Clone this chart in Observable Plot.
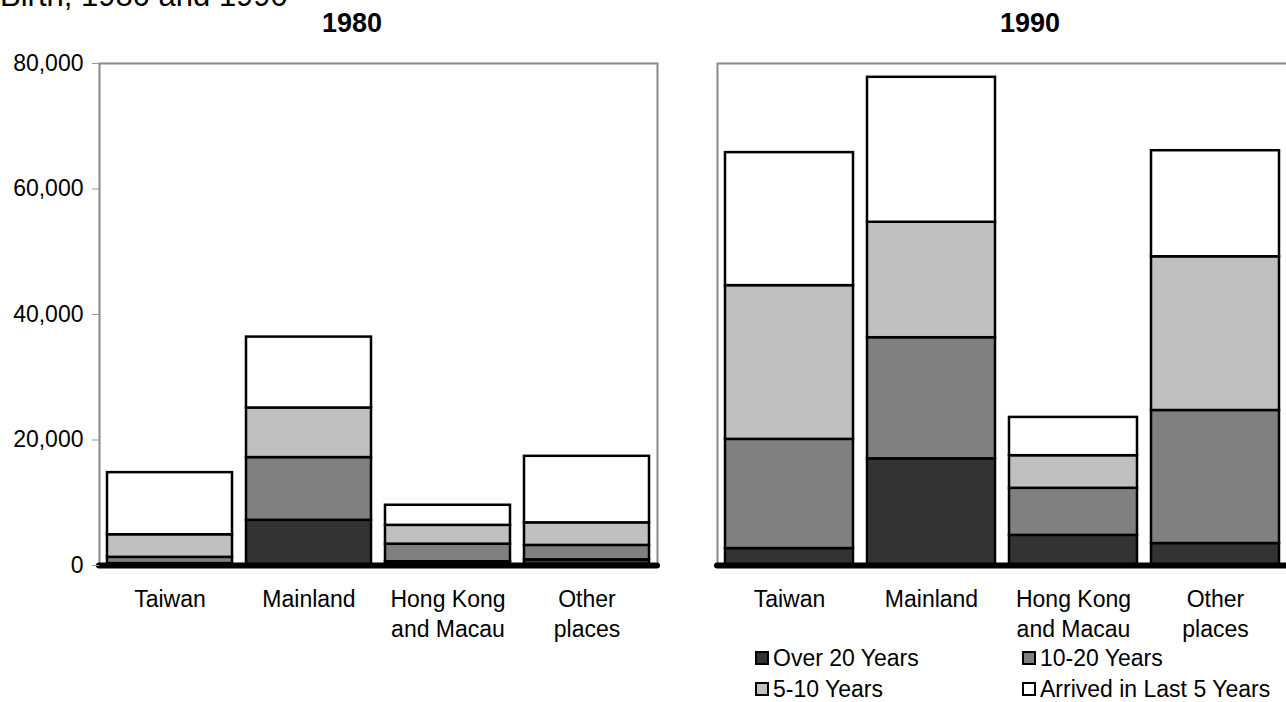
<!DOCTYPE html>
<html>
<head>
<meta charset="utf-8">
<script src="https://cdn.jsdelivr.net/npm/d3@7"></script>
<script src="https://cdn.jsdelivr.net/npm/@observablehq/plot@0.6"></script>
<style>
  html, body { margin: 0; padding: 0; background: #fff; }
  #root { position: relative; width: 1286px; height: 702px; overflow: hidden; font-family: "Liberation Sans", Arial, sans-serif; }
  .abs { position: absolute; }
  .ptitle { position: absolute; font-weight: bold; font-size: 27px; line-height: 27px; transform: translateX(-50%); white-space: nowrap; }
  .leg { position: absolute; font-size: 23px; line-height: 24px; display: flex; align-items: center; white-space: nowrap; }
  .sw { width: 10px; height: 10px; border: 2px solid #000; margin-right: 4px; box-sizing: content-box; }
</style>
</head>
<body>
<div id="root"></div>
<script>
const places = ["Taiwan", "Mainland", "Hong Kong\nand Macau", "Other\nplaces"];
const seriesNames = ["Over 20 Years", "10-20 Years", "5-10 Years", "Arrived in Last 5 Years"];
const seriesColors = ["#333333", "#808080", "#c0c0c0", "#ffffff"];
const years = ["1980", "1990"];
const yTicks = [0, 20000, 40000, 60000, 80000];

const over20_1980 = [300, 7200, 600, 900];
const y10to20_1980 = [1000, 10000, 2800, 2300];
const y5to10_1980 = [3600, 7900, 3000, 3600];
const last5_1980 = [9900, 11300, 3200, 10600];

const over20_1990 = [2700, 17000, 4800, 3500];
const y10to20_1990 = [17400, 19300, 7500, 21200];
const y5to10_1990 = [24500, 18400, 5200, 24500];
const last5_1990 = [21200, 23100, 6100, 16900];

const topText = "Birth, 1980 and 1990";

function rows(seriesArrays) {
  const out = [];
  seriesArrays.forEach((arr, si) => {
    arr.forEach((v, pi) => out.push({place: places[pi], series: seriesNames[si], value: v}));
  });
  return out;
}

const data1980 = rows([over20_1980, y10to20_1980, y5to10_1980, last5_1980]);
const data1990 = rows([over20_1990, y10to20_1990, y5to10_1990, last5_1990]);

const root = document.getElementById("root");

function makePlot(data, showY, width, marginLeft, marginRight) {
  const marks = [
    Plot.frame({stroke: "#888", strokeWidth: 2}),
    Plot.barY(data, {x: "place", y: "value", fill: "series", stroke: "#000", strokeWidth: 2.5}),
    Plot.ruleY([0], {stroke: "#000", strokeWidth: 6, strokeLinecap: "round"}),
    Plot.axisX({anchor: "bottom", tickSize: 0, tickPadding: 20, fontSize: 23, lineHeight: 1.3, label: null})
  ];
  if (showY) {
    marks.push(Plot.axisY(yTicks, {anchor: "left", tickSize: 7, tickPadding: 9, tickFormat: d3.format(","), fontSize: 23, stroke: "#999", label: null}));
  }
  return Plot.plot({
    width, height: 702,
    marginTop: 63, marginBottom: 137, marginLeft, marginRight,
    style: {fontFamily: "'Liberation Sans', Arial, sans-serif", fontSize: "23px", color: "#000", background: "transparent", overflow: "visible"},
    x: {domain: places, paddingInner: 0.1, paddingOuter: 0.05, axis: null},
    y: {domain: [0, 80000], axis: null},
    color: {domain: seriesNames, range: seriesColors},
    marks
  });
}

const p1 = makePlot(data1980, true, 660, 99, 3);
p1.classList.add("abs");
p1.style.left = "0px"; p1.style.top = "0px";
root.appendChild(p1);

const p2 = makePlot(data1990, false, 627, 57, 0);
p2.classList.add("abs");
p2.style.left = "660px"; p2.style.top = "0px";
root.appendChild(p2);

// cut-off heading line at top (as in the reference)
const tt = document.createElement("div");
tt.className = "abs";
tt.style.cssText = "left:0px; top:-20px; font-size:31px; line-height:31px; white-space:nowrap;";
tt.textContent = topText;
root.appendChild(tt);

// panel titles
[[years[0], 352], [years[1], 1030]].forEach(([t, x]) => {
  const d = document.createElement("div");
  d.className = "ptitle";
  d.style.left = x + "px"; d.style.top = "10px";
  d.textContent = t;
  root.appendChild(d);
});

// legend
const legPos = [[755, 646], [1022, 646], [755, 677], [1022, 677]];
seriesNames.forEach((name, i) => {
  const d = document.createElement("div");
  d.className = "leg";
  d.style.left = legPos[i][0] + "px"; d.style.top = legPos[i][1] + "px";
  const sw = document.createElement("div");
  sw.className = "sw";
  sw.style.background = seriesColors[i];
  d.appendChild(sw);
  const s = document.createElement("span");
  s.textContent = name;
  d.appendChild(s);
  root.appendChild(d);
});
</script>
</body>
</html>
